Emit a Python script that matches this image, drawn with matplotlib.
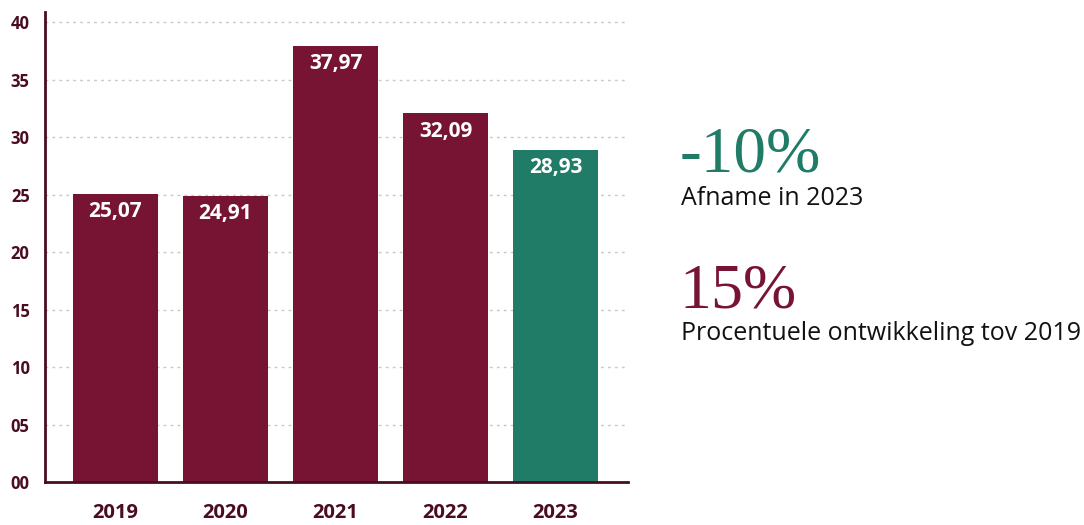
import matplotlib
matplotlib.use("Agg")
import matplotlib.pyplot as plt
import numpy as np

years = ["2019", "2020", "2021", "2022", "2023"]
values = [25.07, 24.91, 37.97, 32.09, 28.93]
value_labels = ["25,07", "24,91", "37,97", "32,09", "28,93"]
y_ticks = [0, 5, 10, 15, 20, 25, 30, 35, 40]
y_tick_labels = ["00", "05", "10", "15", "20", "25", "30", "35", "40"]

MAROON = "#771434"
GREEN = "#207c67"
DARK = "#4a0c22"
FONT = "Open Sans"

bar_colors = [MAROON] * 4 + [GREEN]

fig = plt.figure(figsize=(10.84, 5.25), dpi=100)
ax = fig.add_axes([0.0415, 0.082, 0.538, 0.895])

x = np.arange(len(years))
bars = ax.bar(x, values, width=0.773, color=bar_colors, zorder=2)

for b, lab in zip(bars, value_labels):
    ax.annotate(lab, (b.get_x() + b.get_width() / 2, b.get_height()),
                xytext=(0, -13), textcoords="offset points",
                ha="center", va="center", color="white",
                fontsize=15, fontweight="bold", family=FONT)

ax.set_xlim(-0.64, 4.66)
ax.set_ylim(0, 40.9)
ax.set_yticks(y_ticks)
ax.set_yticklabels(y_tick_labels)
ax.set_xticks(x)
ax.set_xticklabels(years)

ax.grid(axis="y", color="#c8c8c8", linestyle=(0, (2, 3)), linewidth=1, zorder=0)
for s in ["top", "right"]:
    ax.spines[s].set_visible(False)
for s in ["left", "bottom"]:
    ax.spines[s].set_color(DARK)
    ax.spines[s].set_linewidth(2)

ax.tick_params(axis="both", length=0)
ax.tick_params(axis="y", pad=11)
ax.tick_params(axis="x", pad=15)
for t in ax.get_yticklabels():
    t.set_fontsize(12)
    t.set_fontweight("bold")
    t.set_color(DARK)
    t.set_family(FONT)
for t in ax.get_xticklabels():
    t.set_fontsize(14.5)
    t.set_fontweight("bold")
    t.set_color(DARK)
    t.set_family(FONT)

# key figures on the right
fig.text(0.627, 0.674, "-10%", color=GREEN, fontsize=47,
         family="Liberation Serif", va="baseline")
fig.text(0.628, 0.609, "Afname in 2023", color="#111111", fontsize=18,
         family=FONT, va="baseline")
fig.text(0.627, 0.415, "15%", color=MAROON, fontsize=46,
         family="Liberation Serif", va="baseline")
fig.text(0.628, 0.352, "Procentuele ontwikkeling tov 2019", color="#111111",
         fontsize=18, family=FONT, va="baseline")

fig.savefig("out.png", dpi=100)
